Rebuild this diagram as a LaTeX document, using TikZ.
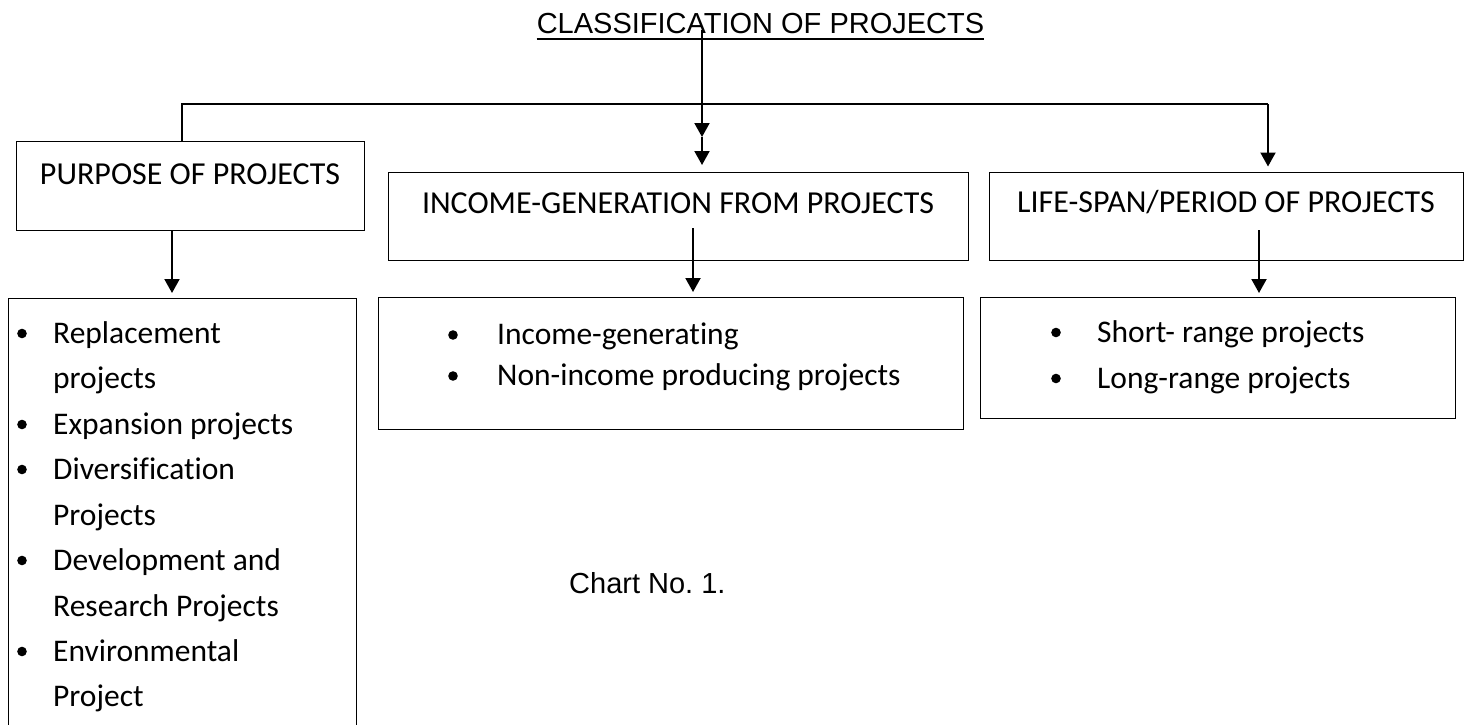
\documentclass[tikz,border=0pt]{standalone}
\usepackage{fontspec}
\setmainfont{Carlito}[Ligatures=NoCommon]
\newfontfamily\arialfont{Liberation Sans}
\usetikzlibrary{arrows.meta}
\frenchspacing
\begin{document}
\begin{tikzpicture}[x=1pt,y=-1pt,
  box/.style={draw, line width=1.4pt, inner sep=0pt, anchor=north west},
  head/.style={font=\fontsize{32}{37}\selectfont, anchor=base, inner sep=0pt},
  item/.style={font=\fontsize{31.5}{36}\selectfont, anchor=base west, inner sep=0pt},
  caption/.style={font=\arialfont\fontsize{29}{34}\selectfont, inner sep=0pt},
  link/.style={line width=1.5pt},
  conn/.style={line width=2pt, -{Triangle[length=14pt,width=15pt]}},
  dotr/.store in=\dotr, dotr=4.8pt]
\useasboundingbox (0,0) rectangle (1467,725);
\clip (0,0) rectangle (1467,725);

% title
\node[caption, anchor=base] (title) at (760.5,34) {CLASSIFICATION OF PROJECTS};
\draw[line width=1.4pt] ([yshift=-5pt]title.base west) -- ([yshift=-5pt]title.base east);

% first level boxes
\node[box, minimum width=348pt, minimum height=89pt] (purpose) at (16,141) {};
\node[box, minimum width=580pt, minimum height=88pt] (inc) at (388,171.5) {};
\node[box, minimum width=474pt, minimum height=88pt] (life) at (989,171.5) {};
\node[head] (purposetxt) at (190,184.3) {PURPOSE OF PROJECTS};
\node[head] (inctxt) at (678,213) {INCOME-GENERATION FROM PROJECTS};
\node[head] (lifetxt) at (1226,212.7) {LIFE-SPAN/PERIOD OF PROJECTS};

% second level boxes
\node[box, minimum width=348pt, minimum height=460pt] (plist) at (8,298) {};
\node[box, minimum width=585pt, minimum height=132pt] (ilist) at (378,297) {};
\node[box, minimum width=475pt, minimum height=121pt] (llist) at (980,297) {};

% purpose items
\foreach \txt/\yy [count=\i] in {Replacement/343, projects/388.5, Expansion projects/434,
    Diversification/479, Projects/525, Development and/570, Research Projects/616,
    Environmental/661, Project/706}
  \node[item] (p\i) at (53,\yy) {\txt};
\foreach \yy in {343,434,479,570,661}
  \fill (22,\yy-9.5) circle (\dotr);

% income items
\node[item] (i1) at (497,344.5) {Income-generating};
\node[item] (i2) at (497,385.5) {Non-income producing projects};
\foreach \yy in {344.5,385.5}
  \fill (453,\yy-9.5) circle (\dotr);

% life-span items
\node[item] (l1) at (1097,342) {Short- range projects};
\node[item] (l2) at (1097,388) {Long-range projects};
\foreach \yy in {342,388}
  \fill (1056,\yy-9.5) circle (\dotr);

% caption
\node[caption, anchor=base west] (chart) at (569,593) {Chart No. 1.};

% connectors
\coordinate (stem) at (702,30);
\coordinate (midtip) at (702,137);
\coordinate (hl) at (182,104);
\coordinate (hr) at (1268,104);
\coordinate (pax) at (172,0);
\coordinate (iax) at (693,228);
\coordinate (lax) at (1259,230);

\draw[conn] (stem) -- (midtip);
\draw[conn, shorten >=6.5pt] (midtip) -- (inc.north -| midtip);
\draw[link] (purpose.north -| hl) -- (hl) -- (hr);
\draw[conn, shorten >=5pt] (hr) -- (life.north -| hr);
\draw[conn, shorten >=5pt] (purpose.south -| pax) -- (plist.north -| pax);
\draw[conn, shorten >=5pt] (iax) -- (ilist.north -| iax);
\draw[conn, shorten >=4pt] (lax) -- (llist.north -| lax);
\end{tikzpicture}
\end{document}
